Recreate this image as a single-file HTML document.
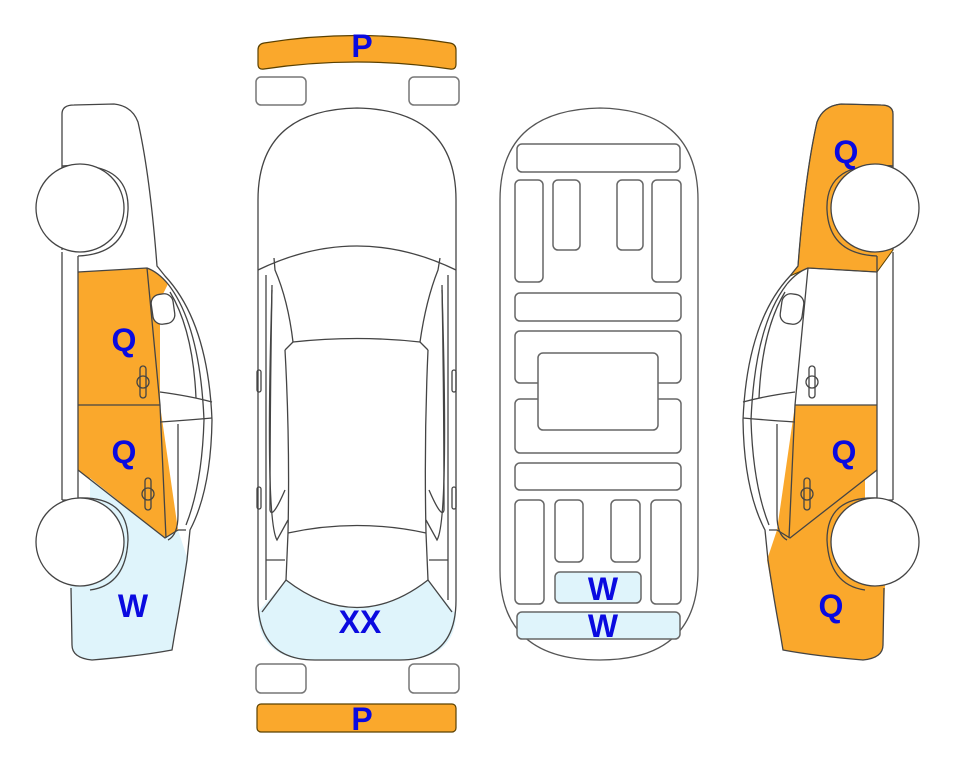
<!DOCTYPE html>
<html><head><meta charset="utf-8"><style>
html,body{margin:0;padding:0;background:#fff;}
svg{display:block;}
text{font-family:"Liberation Sans",Arial,sans-serif;font-weight:bold;font-size:32px;fill:#0a0ae0;text-anchor:middle;dominant-baseline:central;}
</style></head><body>
<svg width="963" height="768" viewBox="0 0 963 768" xmlns="http://www.w3.org/2000/svg">
<defs>
<g id="lines" fill="none" stroke="#444" stroke-width="1.3">
  <path d="M62,250 L62,114 Q62,105 74,105 L114,104 Q132,106 138,122 Q150,175 157,266 L165,276 Q208,322 212,420 Q211,490 190,530 L187,560 Q181,600 175,632 L172,650 Q140,656 92,660 Q72,658 72,645 L71,588"/>
  <path d="M62,252 L62,500 M78,256 L78,498 M62,500 L78,500"/>
  <path d="M62,166 Q130,160 128,210 Q126,254 78,256"/>
  <path d="M78,498 Q128,496 128,540 Q126,585 90,590"/>
  <path d="M78,272 L147,268 Q158,272 168,284"/>
  <path d="M147,268 L160,405 L166,538"/>
  <path d="M78,405 L160,405"/>
  <path d="M78,470 L165,538 L178,530"/>
  <path d="M168,284 Q200,325 204,420 Q202,485 186,525"/>
  <path d="M160,392 Q190,396 212,402 M160,422 Q190,420 212,418"/>
  <path d="M170,292 Q193,330 196,398 M178,424 L178,515 Q178,535 168,540"/>
  <path d="M186,530 L178,530"/>
  <rect x="152" y="294" width="22" height="30" rx="9" fill="#fff" transform="rotate(-8 163 309)"/>
  <rect x="140" y="366" width="6" height="32" rx="3"/>
  <circle cx="143" cy="382" r="6"/>
  <rect x="145" y="478" width="6" height="32" rx="3"/>
  <circle cx="148" cy="494" r="6"/>
  <circle cx="80" cy="208" r="44" fill="#fff"/>
  <circle cx="80" cy="542" r="44" fill="#fff"/>
</g>
</defs>

<path d="M78,272 L147,268 Q158,272 168,284 L160,300 L160,405 L78,405 Z" fill="#faa82c"/>
<path d="M78,405 L160,405 L178,530 L165,538 L78,470 Z" fill="#faa82c"/>
<path d="M90,478 L165,538 L178,530 L188,560 Q181,600 175,632 L172,650 Q140,656 92,660 Q72,658 72,645 L70,585 L90,560 Z" fill="#dff4fb"/>
<use href="#lines"/>

<g transform="translate(955,0) scale(-1,1)">
  <path d="M62,250 L62,114 Q62,105 74,105 L114,104 Q132,106 138,122 Q150,175 157,266 L165,276 L147,268 L78,272 Z" fill="#faa82c" stroke="#5a4000" stroke-width="1"/>
  <path d="M78,405 L160,405 L178,530 L165,538 L78,470 Z" fill="#faa82c"/>
  <path d="M90,478 L165,538 L178,530 L188,560 Q181,600 175,632 L172,650 Q140,656 92,660 Q72,658 72,645 L70,585 L90,560 Z" fill="#faa82c"/>
  <use href="#lines"/>
</g>

<path d="M258,612 L286,580 Q357,635 428,580 L454,612 L456,612 Q456,660 400,660 L315,660 Q258,660 258,612 Z" fill="#dff4fb"/>
<g fill="none" stroke="#444" stroke-width="1.3">
  <path d="M258,200 Q258,110 357,108 Q456,110 456,200 L456,600 Q456,660 400,660 L315,660 Q258,660 258,600 Z"/>
  <path d="M258,270 Q357,222 456,270"/>
  <path d="M274,258 L275,270 Q288,300 293,342 M440,258 L438,270 Q426,300 420,342"/>
  <path d="M293,342 Q357,335 420,342"/>
  <path d="M285,350 L293,342 M428,350 L420,342"/>
  <path d="M285,350 Q290,440 288,533 L286,580 M428,350 Q424,440 426,533 L428,580"/>
  <path d="M288,533 Q357,518 426,533"/>
  <path d="M286,580 Q357,635 428,580"/>
  <path d="M262,612 L286,580 M452,612 L428,580"/>
  <path d="M266,275 L266,600 M448,275 L448,600"/>
  <path d="M272,285 Q270,400 270,510 Q272,520 285,490 M442,285 Q444,400 444,510 Q442,520 429,490"/>
  <path d="M272,290 Q265,520 277,540 L288,520 M442,290 Q449,520 437,540 L426,520"/>
  <path d="M266,560 L285,560 M448,560 L429,560"/>
  <rect x="257" y="370" width="4" height="22" rx="2"/>
  <rect x="257" y="487" width="4" height="22" rx="2"/>
  <rect x="452" y="370" width="4" height="22" rx="2"/>
  <rect x="452" y="487" width="4" height="22" rx="2"/>
</g>

<path d="M258,50 Q258,44 264,43 Q357,28 450,43 Q456,44 456,50 L456,64 Q456,70 450,69 Q357,55 264,69 Q258,70 258,64 Z" fill="#faa82c" stroke="#5a4000" stroke-width="1.2"/>
<g fill="#fff" stroke="#777" stroke-width="1.5">
  <rect x="256" y="77" width="50" height="28" rx="5"/>
  <rect x="409" y="77" width="50" height="28" rx="5"/>
  <rect x="256" y="664" width="50" height="29" rx="5"/>
  <rect x="409" y="664" width="50" height="29" rx="5"/>
</g>
<rect x="257" y="704" width="199" height="28" rx="4" fill="#faa82c" stroke="#5a4000" stroke-width="1.2"/>

<g fill="#fff" stroke="#666" stroke-width="1.5">
  <path d="M500,200 Q500,110 600,108 Q698,110 698,200 L698,570 Q698,660 600,660 Q500,660 500,570 Z" stroke="#555" stroke-width="1.3"/>
  <rect x="517" y="144" width="163" height="28" rx="5"/>
  <rect x="515" y="180" width="28" height="102" rx="5"/>
  <rect x="553" y="180" width="27" height="70" rx="5"/>
  <rect x="617" y="180" width="26" height="70" rx="5"/>
  <rect x="652" y="180" width="29" height="102" rx="5"/>
  <rect x="515" y="293" width="166" height="28" rx="5"/>
  <rect x="515" y="331" width="166" height="52" rx="5"/>
  <rect x="515" y="399" width="166" height="54" rx="5"/>
  <rect x="538" y="353" width="120" height="77" rx="5"/>
  <rect x="515" y="463" width="166" height="27" rx="5"/>
  <rect x="515" y="500" width="29" height="104" rx="5"/>
  <rect x="555" y="500" width="28" height="62" rx="5"/>
  <rect x="611" y="500" width="29" height="62" rx="5"/>
  <rect x="651" y="500" width="30" height="104" rx="5"/>
  <rect x="555" y="572" width="86" height="31" rx="5" fill="#dff4fb"/>
  <rect x="517" y="612" width="163" height="27" rx="5" fill="#dff4fb"/>
</g>

<text x="362" y="46">P</text>
<text x="362" y="719">P</text>
<text x="124" y="340">Q</text>
<text x="124" y="452">Q</text>
<text x="133" y="606">W</text>
<text x="360" y="622">XX</text>
<text x="603" y="589">W</text>
<text x="603" y="626">W</text>
<text x="846" y="152">Q</text>
<text x="844" y="452">Q</text>
<text x="831" y="606">Q</text>
</svg>
</body></html>
